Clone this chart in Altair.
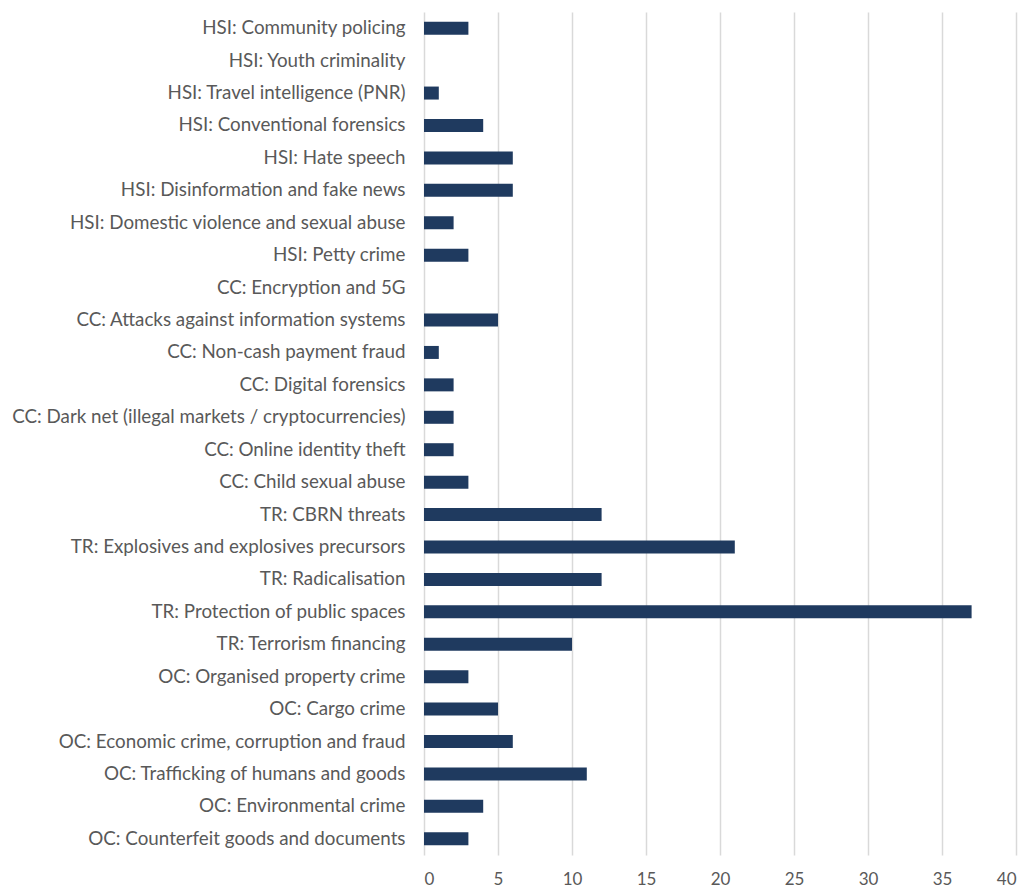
import altair as alt
import pandas as pd

categories = [
    "HSI: Community policing",
    "HSI: Youth criminality",
    "HSI: Travel intelligence (PNR)",
    "HSI: Conventional forensics",
    "HSI: Hate speech",
    "HSI: Disinformation and fake news",
    "HSI: Domestic violence and sexual abuse",
    "HSI: Petty crime",
    "CC: Encryption and 5G",
    "CC: Attacks against information systems",
    "CC: Non-cash payment fraud",
    "CC: Digital forensics",
    "CC: Dark net (illegal markets / cryptocurrencies)",
    "CC: Online identity theft",
    "CC: Child sexual abuse",
    "TR: CBRN threats",
    "TR: Explosives and explosives precursors",
    "TR: Radicalisation",
    "TR: Protection of public spaces",
    "TR: Terrorism financing",
    "OC: Organised property crime",
    "OC: Cargo crime",
    "OC: Economic crime, corruption and fraud",
    "OC: Trafficking of humans and goods",
    "OC: Environmental crime",
    "OC: Counterfeit goods and documents",
]
values = [3, 0, 1, 4, 6, 6, 2, 3, 0, 5, 1, 2, 2, 2, 3, 12, 21, 12, 37, 10, 3, 5, 6, 11, 4, 3]
x_ticks = [0, 5, 10, 15, 20, 25, 30, 35, 40]

df = pd.DataFrame({"category": categories, "value": values})

FONT = "Lato"
TEXT = "#595959"

chart = (
    alt.Chart(df)
    .mark_bar(color="#1f3a5f", size=13)
    .encode(
        x=alt.X(
            "value:Q",
            scale=alt.Scale(domain=[0, 40], nice=False),
            axis=alt.Axis(
                values=x_ticks,
                title=None,
                grid=True,
                gridColor="#d9d9d9",
                gridWidth=1.5,
                domain=False,
                ticks=False,
                labelPadding=16,
                labelFontSize=17,
                labelColor=TEXT,
                labelFont=FONT,
            ),
        ),
        y=alt.Y(
            "category:N",
            sort=None,
            axis=alt.Axis(
                title=None,
                domain=False,
                ticks=False,
                labelPadding=19,
                labelFontSize=18.8,
                labelColor=TEXT,
                labelFont=FONT,
                labelLimit=500,
                minExtent=424,
                maxExtent=424,
            ),
        ),
    )
    .properties(
        width=592,
        height=843,
        padding={"left": 0, "top": 12, "right": 10, "bottom": 5},
    )
    .configure_view(stroke=None)
)

chart.save("out.html", embed_options={"renderer": "svg", "actions": False})
